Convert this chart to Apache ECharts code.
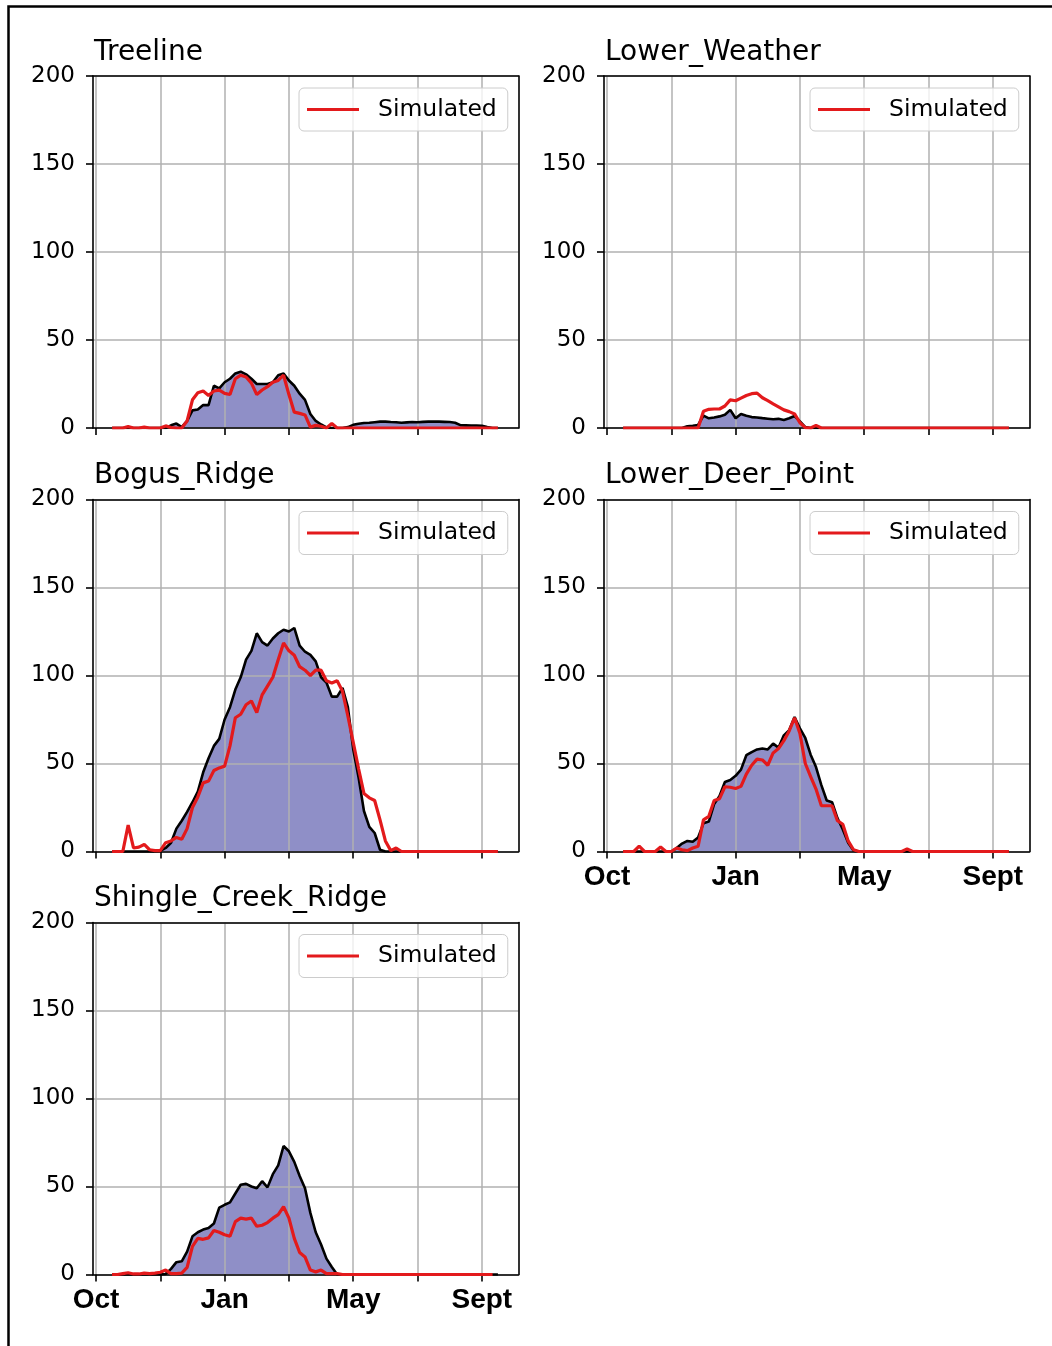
<!DOCTYPE html>
<html>
<head>
<meta charset="utf-8">
<script src="https://cdn.jsdelivr.net/npm/echarts@6/dist/echarts.min.js"></script>
<style>
  html, body { margin: 0; padding: 0; background: #fff; }
  #chart { width: 1052px; height: 1346px; }
</style>
</head>
<body>
<div id="chart"></div>
<script>
// Day of the water year for every sample (ticks sit at 0, 60, ... 360)
const DAYS = [15,20,25,30,35,40,45,50,55,60,65,70,75,80,85,90,95,100,105,110,115,120,125,130,135,140,145,150,155,160,165,170,175,180,185,190,195,200,205,210,215,220,225,230,235,240,245,250,255,260,265,270,275,280,285,290,295,300,305,310,315,320,325,330,335,340,345,350,355,360,365,370,375];

const X_TICKS = [0, 60, 120, 180, 240, 300, 360];
const X_LABEL_TICKS = [0, 120, 240, 360];
const X_LABELS = ['Oct', 'Jan', 'May', 'Sept'];
const Y_TICKS = [0, 50, 100, 150, 200];

const SITES = ['Treeline', 'Lower_Weather', 'Bogus_Ridge', 'Lower_Deer_Point', 'Shingle_Creek_Ridge'];

// Observed and simulated depth per site
const treelineObserved = [0,0,0,0,0,0,0,0,0,0,0,1.5,2.5,0.5,4,10,10.5,13,13,24,22.5,26,28,31,32,30.5,28,25,25,25,26,30,31,27,24,19.5,16,8,4,2,0.3,0,0,0,0.5,1.8,2.4,2.8,3,3.3,3.6,3.6,3.4,3.3,3,3.2,3.4,3.3,3.5,3.6,3.7,3.6,3.5,3.4,3,1.6,1.5,1.4,1.4,1.3,0.6,0,0];
const treelineSimulated = [0,0,0,0.8,0,0,0.5,0,0,0,1.2,0.3,0,0,4,16,20,21,18.5,21,21.5,19.7,19,28,30,29,25.5,19,21.6,23.5,26,27,30,19,9,8.3,7.4,0.5,1.5,1,0,2.5,0,0,0,0,0,0,0,0,0,0,0,0,0,0,0,0,0,0,0,0,0,0,0,0,0,0,0,0,0,0,0];

const lowerWeatherObserved = [0,0,0,0,0,0,0,0,0,0,0,0,1,1.3,1.7,7,5.5,6,6.6,7.5,10.3,5.5,8,7,6.2,6,5.6,5.3,5,5.2,4.6,5.5,6.8,3.8,0.5,0,0,0,0,0,0,0,0,0,0,0,0,0,0,0,0,0,0,0,0,0,0,0,0,0,0,0,0,0,0,0,0,0,0,0,0,0,0];
const lowerWeatherSimulated = [0,0,0,0,0,0,0,0,0,0,0,0,0,0,0,9.5,10.6,10.8,10.8,12.5,16,15.5,17,18.5,19.5,19.8,17.2,15.5,13.7,12,10.3,9.3,8,3,0.2,0,1.5,0,0,0,0,0,0,0,0,0,0,0,0,0,0,0,0,0,0,0,0,0,0,0,0,0,0,0,0,0,0,0,0,0,0,0,0];

const bogusRidgeObserved = [0,0,0,0,0,0,0,0,0,0.3,2,5,13,17.5,22.5,28,34,45,53,60,64,75,82,92,99,109,114,124,119,117,121,124,126,125,127,117,113.5,111.7,108,99,96,88,88,93,82,58,42,23,14,10.5,1,0,0,0,0,0,0,0,0,0,0,0,0,0,0,0,0,0,0,0,0,0,0];
const bogusRidgeSimulated = [0,0,0,15,2,2.5,4,1,0.5,0.5,5,6,8,7,13,25,31,39,40,46,47.5,48.5,60,76,78,83.4,85.5,79,89,94,99,109,118.5,114,111.5,105,103,100,103,103,97,95.7,97,91,77,62,47,33,30.5,29,18,6,0.5,2,0,0,0,0,0,0,0,0,0,0,0,0,0,0,0,0,0,0,0];

const lowerDeerObserved = [0,0,0,0,0,0,0,0,0,0,2,4.5,6,5.5,8,16,17,27,31.5,39.5,40.6,43,46.5,54.7,56.5,58,58.5,58,61.3,59,66,69,76.4,70,64.5,55,48,37.7,29,28,19,12.5,5,0.5,0,0,0,0,0,0,0,0,0,0,0,0,0,0,0,0,0,0,0,0,0,0,0,0,0,0,0,0,0];
const lowerDeerSimulated = [0,0,0,3,0,0,0,2.5,0,0,2,1,0.5,2,3,18,20,29,30,36.8,36.5,35.8,37,44,49,52.5,52,49,56,58.5,63,68.5,76,67,50,42.5,35.5,26,26,26,17.5,15.5,6,1,0,0,0,0,0,0,0,0,0,1.5,0,0,0,0,0,0,0,0,0,0,0,0,0,0,0,0,0,0,0];

const shingleObserved = [0,0,0,0,0,0,0,0,0,0,0.3,3.2,7,7.5,13,21.7,24,25.5,26.4,29,38,39.6,41,46,51,51.5,50,49,53,49.5,57,62,73,70,64,56,49,35,24,17,9,4.3,0,0,0,0,0,0,0,0,0,0,0,0,0,0,0,0,0,0,0,0,0,0,0,0,0,0,0,0,0,0,0];
const shingleSimulated = [0,0,0.5,1,0.3,0.3,0.8,0.5,0.8,1.3,2.5,0.5,0.5,0.8,4,16,20.5,20,20.8,25,24,22.6,21.7,30,32,31.5,32,27.4,28,29.5,32,34,38.5,32,20.5,12.5,10,2.5,1.5,2.5,0.5,0.5,0.5,0,0,0,0,0,0,0,0,0,0,0,0,0,0,0,0,0,0,0,0,0,0,0,0,0,0,0,0,0];

const OBSERVED = [treelineObserved, lowerWeatherObserved, bogusRidgeObserved, lowerDeerObserved, shingleObserved];
const SIMULATED = [treelineSimulated, lowerWeatherSimulated, bogusRidgeSimulated, lowerDeerSimulated, shingleSimulated];

// Panel frames (pixels)
const PANEL_LEFT = [93, 604, 93, 604, 93];
const PANEL_TOP = [76, 76, 499.5, 499.5, 922.5];
const PANEL_W = 425.5;
const PANEL_H = 352;
const X_MIN = -2.8, X_MAX = 394.2;

const FILL = 'rgba(0,0,128,0.44)';
const RED = '#e31a1c';
const GRID_GREY = '#b0b0b0';
const SANS = "'DejaVu Sans', sans-serif";
const BOLD_SANS = "'Liberation Sans', Arial, sans-serif";
const SPINE = { color: '#000', width: 1.6 };

const pairs = arr => DAYS.map((d, k) => [d, arr[k]]);

const grids = [], xAxes = [], yAxes = [], series = [], titles = [], legends = [];

SITES.forEach((site, i) => {
  const left = PANEL_LEFT[i], top = PANEL_TOP[i];
  const showX = i >= 3;

  grids.push({ left: left, top: top, width: PANEL_W, height: PANEL_H, show: false });

  // bottom axis with month ticks
  xAxes.push({
    gridIndex: i, type: 'value', position: 'bottom', min: X_MIN, max: X_MAX, z: 2,
    axisLine: { show: true, onZero: false, lineStyle: SPINE },
    axisTick: { show: true, customValues: X_TICKS, length: 7, lineStyle: SPINE },
    axisLabel: {
      show: showX, customValues: X_LABEL_TICKS,
      formatter: v => X_LABELS[X_LABEL_TICKS.indexOf(v)] || '',
      fontFamily: BOLD_SANS, fontWeight: 'bold', fontSize: 28, color: '#000', margin: 12
    },
    splitLine: { show: true, lineStyle: { color: GRID_GREY, width: 1.5 } }
  });
  // top spine only
  xAxes.push({
    gridIndex: i, type: 'value', position: 'top', min: X_MIN, max: X_MAX, z: 5,
    axisLine: { show: true, onZero: false, lineStyle: SPINE },
    axisTick: { show: false }, axisLabel: { show: false }, splitLine: { show: false }
  });

  yAxes.push({
    gridIndex: i, type: 'value', position: 'left', min: Y_TICKS[0], max: Y_TICKS[Y_TICKS.length - 1], interval: 50, z: 2,
    axisLine: { show: true, onZero: false, lineStyle: SPINE },
    axisTick: { show: true, length: 7, lineStyle: SPINE },
    axisLabel: { fontFamily: SANS, fontSize: 23, color: '#000', margin: 18 },
    splitLine: { show: true, lineStyle: { color: GRID_GREY, width: 1.5 } }
  });
  // right spine only
  yAxes.push({
    gridIndex: i, type: 'value', position: 'right', min: Y_TICKS[0], max: Y_TICKS[Y_TICKS.length - 1], z: 5,
    axisLine: { show: true, onZero: false, lineStyle: SPINE },
    axisTick: { show: false }, axisLabel: { show: false }, splitLine: { show: false }
  });

  const xi = 2 * i, yi = 2 * i;

  // shaded observed area beneath the grid lines
  series.push({
    type: 'line', xAxisIndex: xi, yAxisIndex: yi, data: pairs(OBSERVED[i]),
    showSymbol: false, silent: true, z: 1,
    lineStyle: { width: 0 },
    areaStyle: { color: FILL, opacity: 1 }
  });
  // observed outline
  series.push({
    type: 'line', name: 'Observed', xAxisIndex: xi, yAxisIndex: yi, data: pairs(OBSERVED[i]),
    showSymbol: false, silent: true, z: 3,
    lineStyle: { color: '#000', width: 2.6 }, itemStyle: { color: '#000' }
  });
  // simulated
  series.push({
    type: 'line', name: 'Simulated', xAxisIndex: xi, yAxisIndex: yi, data: pairs(SIMULATED[i]),
    showSymbol: false, silent: true, z: 4,
    lineStyle: { color: RED, width: 3.2 }, itemStyle: { color: RED }
  });

  titles.push({
    text: site, left: left + 1, top: top - 37.6, padding: 0,
    textStyle: { fontFamily: SANS, fontSize: 28, fontWeight: 'normal', color: '#000' }
  });

  legends.push({
    data: ['Simulated'], selectedMode: false,
    left: left + 206, top: top + 12,
    orient: 'vertical', icon: 'rect', itemWidth: 52, itemHeight: 3,
    padding: [9.5, 11, 9.5, 8],
    backgroundColor: 'rgba(255,255,255,0.8)', borderColor: '#cccccc', borderWidth: 1, borderRadius: 5,
    textStyle: { fontFamily: SANS, fontSize: 23.5, color: '#000', padding: [0, 0, 0, 14] }
  });
});

const chart = echarts.init(document.getElementById('chart'), null, { renderer: 'canvas' });
chart.setOption({
  animation: false,
  backgroundColor: '#fff',
  title: titles,
  legend: legends,
  grid: grids,
  xAxis: xAxes,
  yAxis: yAxes,
  series: series,
  graphic: [{
    type: 'polyline', silent: true, z: 10,
    shape: { points: [[8.5, 1346], [8.5, 6.5], [1052, 6.5]] },
    style: { stroke: '#000', lineWidth: 2.5, fill: null }
  }]
});
</script>
</body>
</html>
